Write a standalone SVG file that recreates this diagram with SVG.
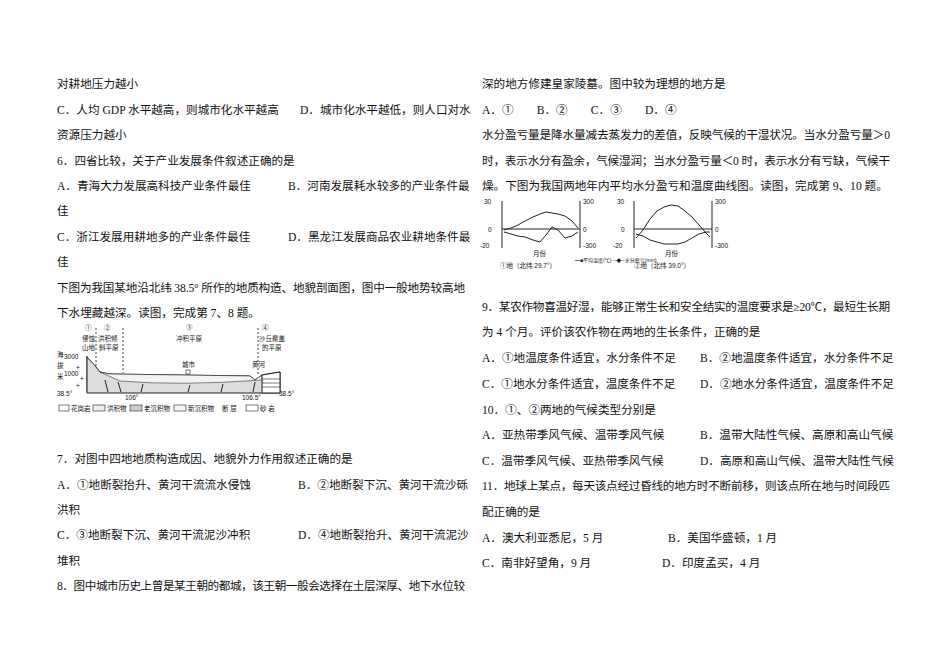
<svg xmlns="http://www.w3.org/2000/svg" width="950" height="672" viewBox="0 0 950 672">
<style>
text{font-family:"Liberation Serif","Noto Sans CJK SC",serif;font-size:11.6px;fill:#111}
.s{font-size:6.5px;font-family:"Liberation Sans","Noto Sans CJK SC",sans-serif}
.ln{stroke:#222;fill:none;stroke-width:1}
</style>
<rect width="950" height="672" fill="#fff"/>
<g id="left">
<text x="57" y="88">对耕地压力越小</text>
<text x="57" y="114">C．人均 GDP 水平越高，则城市化水平越高</text>
<text x="300" y="114">D．城市化水平越低，则人口对水</text>
<text x="57" y="139">资源压力越小</text>
<text x="57" y="165">6．四省比较，关于产业发展条件叙述正确的是</text>
<text x="57" y="190">A．青海大力发展高科技产业条件最佳</text>
<text x="288" y="190">B．河南发展耗水较多的产业条件最</text>
<text x="57" y="215">佳</text>
<text x="57" y="241">C．浙江发展用耕地多的产业条件最佳</text>
<text x="288" y="241">D．黑龙江发展商品农业耕地条件最</text>
<text x="57" y="266">佳</text>
<text x="57" y="292" textLength="408" lengthAdjust="spacing">下图为我国某地沿北纬 38.5° 所作的地质构造、地貌剖面图，图中一般地势较高地</text>
<text x="57" y="317">下水埋藏越深。读图，完成第 7、8 题。</text>
<text x="57" y="463">7．对图中四地地质构造成因、地貌外力作用叙述正确的是</text>
<text x="57" y="489">A．①地断裂抬升、黄河干流流水侵蚀</text>
<text x="298" y="489">B．②地断裂下沉、黄河干流沙砾</text>
<text x="57" y="514">洪积</text>
<text x="57" y="539">C．③地断裂下沉、黄河干流泥沙冲积</text>
<text x="298" y="539">D．④地断裂抬升、黄河干流泥沙</text>
<text x="57" y="565">堆积</text>
<text x="57" y="590" textLength="408" lengthAdjust="spacing">8．图中城市历史上曾是某王朝的都城，该王朝一般会选择在土层深厚、地下水位较</text>
</g>
<g id="fig1">
<text class="s" x="85" y="330">①</text><text class="s" x="82" y="341">侵蚀</text><text class="s" x="82" y="350">山地</text>
<text class="s" x="104" y="330">②</text><text class="s" x="98" y="341">洪积倾</text><text class="s" x="99" y="350">斜平原</text>
<text class="s" x="186" y="330">③</text><text class="s" x="176" y="341">冲积平原</text>
<text class="s" x="262" y="330">④</text><text class="s" x="259" y="341">沙丘覆盖</text><text class="s" x="262" y="350">的平原</text>
<text class="s" x="57" y="357">海</text><text class="s" x="57" y="368">拔</text><text class="s" x="57" y="379">米</text>
<text class="s" x="64" y="359">3000</text><text class="s" x="64" y="376">1000</text>
<text class="s" x="57" y="396">38.5°</text><text class="s" x="279" y="396">38.5°</text>
<text class="s" x="125" y="400">106°</text><text class="s" x="242" y="400">106.5°</text>
<text class="s" x="182" y="367">城市</text><text class="s" x="252" y="367">黄河</text>
<path class="ln" d="M87 356 V392"/>
<line x1="96" y1="328" x2="96" y2="372" stroke="#444" stroke-dasharray="2,2"/>
<line x1="123" y1="328" x2="123" y2="373" stroke="#444" stroke-dasharray="2,2"/>
<line x1="258" y1="328" x2="258" y2="376" stroke="#444" stroke-dasharray="2,2"/>
<path d="M87 357 Q95 365 100 372 L110 374 L250 376 L255 380 L262 375 L280 372 V393 L87 393 Z" fill="#ddd" stroke="#222"/>
<path d="M100 372 L110 374 L250 376 L255 380 L262 375 L262 380 Q180 386 120 381 Z" fill="#f4f4f4" stroke="#333" stroke-width="0.6"/>
<path d="M262 375 L280 372 V393 L262 393 Z" fill="#fff" stroke="#222"/>
<path d="M262 379H280M262 383H280M262 387H280" stroke="#222" stroke-width="0.6"/>
<rect x="186" y="370" width="4" height="4" fill="none" stroke="#222" stroke-width="0.6"/>
<path d="M105 380 l3 12 M118 382 l3 10 M143 384 l-2 8 M190 385 l-2 7 M223 384 l-2 8 M255 382 l-2 10" stroke="#222"/>
<text class="s" x="76" y="388">+</text><text class="s" x="80" y="381">+</text><text class="s" x="76" y="370">+</text>
<rect x="59" y="405" width="10" height="6" fill="#fff" stroke="#222" stroke-width="0.6"/><text class="s" x="71" y="411">花岗岩</text>
<rect x="93" y="405" width="12" height="6" fill="#eee" stroke="#222" stroke-width="0.6"/><text class="s" x="107" y="411">洪积物</text>
<rect x="130" y="405" width="12" height="6" fill="#ccc" stroke="#222" stroke-width="0.6"/><text class="s" x="144" y="411">老沉积物</text>
<rect x="174" y="405" width="12" height="6" fill="#f4f4f4" stroke="#222" stroke-width="0.6"/><text class="s" x="188" y="411">新沉积物</text>
<text class="s" x="222" y="411">断 层</text>
<rect x="246" y="405" width="12" height="6" fill="#fff" stroke="#222" stroke-width="0.6"/><text class="s" x="260" y="411">砂 岩</text>
</g>
<g id="right">
<text x="482" y="88">深的地方修建皇家陵墓。图中较为理想的地方是</text>
<text x="482" y="114">A．①　　B．②　　C．③　　D．④</text>
<text x="482" y="139" textLength="408" lengthAdjust="spacing">水分盈亏量是降水量减去蒸发力的差值，反映气候的干湿状况。当水分盈亏量＞0</text>
<text x="482" y="165" textLength="408" lengthAdjust="spacing">时，表示水分有盈余，气候湿润；当水分盈亏量＜0 时，表示水分有亏缺，气候干</text>
<text x="482" y="190">燥。下图为我国两地年内平均水分盈亏和温度曲线图。读图，完成第 9、10 题。</text>
<text x="482" y="311" textLength="408" lengthAdjust="spacing">9．某农作物喜温好湿，能够正常生长和安全结实的温度要求是≥20℃，最短生长期</text>
<text x="482" y="336">为 4 个月。评价该农作物在两地的生长条件，正确的是</text>
<text x="482" y="362">A．①地温度条件适宜，水分条件不足</text>
<text x="700" y="362">B．②地温度条件适宜，水分条件不足</text>
<text x="482" y="388">C．①地水分条件适宜，温度条件不足</text>
<text x="700" y="388">D．②地水分条件适宜，温度条件不足</text>
<text x="482" y="414">10．①、②两地的气候类型分别是</text>
<text x="482" y="439">A．亚热带季风气候、温带季风气候</text>
<text x="700" y="439">B．温带大陆性气候、高原和高山气候</text>
<text x="482" y="465">C．温带季风气候、亚热带季风气候</text>
<text x="700" y="465">D．高原和高山气候、温带大陆性气候</text>
<text x="482" y="490" textLength="408" lengthAdjust="spacing">11．地球上某点，每天该点经过昏线的地方时不断前移，则该点所在地与时间段匹</text>
<text x="482" y="516">配正确的是</text>
<text x="482" y="542">A．澳大利亚悉尼，5 月</text>
<text x="668" y="542">B．美国华盛顿，1 月</text>
<text x="482" y="567">C．南非好望角，9 月</text>
<text x="662" y="567">D．印度孟买，4 月</text>
</g>
<g id="fig2">
<path class="ln" d="M502 201 V248 M580 201 V248 M502 229 H580"/>
<path class="ln" d="M634 201 V248 M712 201 V248 M634 229 H712"/>
<polyline class="ln" points="504,230 511,228 518,225 525,221 533,217 540,214 546,212 552,213 558,214 565,216 572,221 578,228"/>
<polyline class="ln" points="504,232 511,234 518,236 525,237 533,240 540,242 546,235 552,227 558,230 565,238 572,236 578,232"/>
<polyline class="ln" points="636,238 643,230 650,219 657,211 664,207 671,205 678,206 685,211 692,217 699,225 706,233 710,237"/>
<polyline class="ln" points="636,234 643,236 650,240 657,242 664,244 671,244 678,244 685,242 692,238 699,234 706,232 710,232"/>
<text class="s" x="533" y="256">月份</text><text class="s" x="665" y="256">月份</text>
<text class="s" x="500" y="268">①地（北纬 29.7°）</text><text class="s" x="634" y="268">②地（北纬 39.0°）</text>
<text class="s" x="575" y="262" style="font-size:5px">━■平均温度(℃)  ─◆─水分盈亏(mm)</text>
<text class="s" x="484" y="204">30</text><text class="s" x="488" y="232">0</text><text class="s" x="480" y="248">-20</text>
<text class="s" x="583" y="204">300</text><text class="s" x="583" y="232">0</text><text class="s" x="583" y="248">-300</text>
<text class="s" x="617" y="204">30</text><text class="s" x="621" y="232">0</text><text class="s" x="613" y="248">-20</text>
<text class="s" x="715" y="204">300</text><text class="s" x="715" y="232">0</text><text class="s" x="715" y="248">-300</text>
</g>
</svg>
